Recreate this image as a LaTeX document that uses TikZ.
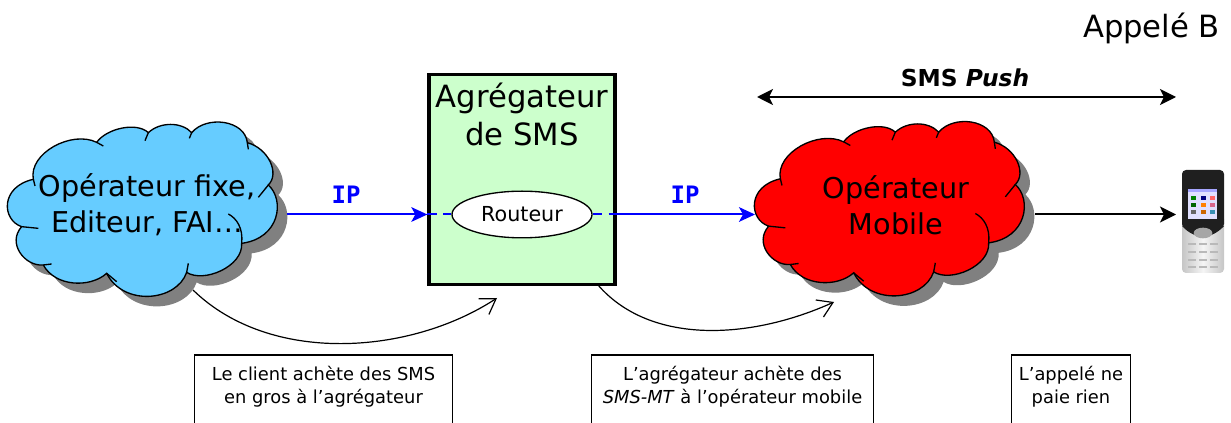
\documentclass[tikz,border=0pt]{standalone}
\usepackage{fontspec}
\setmainfont{DejaVu Sans}
\newfontfamily\ipfont{DejaVu Sans Mono}
\usetikzlibrary{arrows.meta,shapes.geometric}
\definecolor{ciel}{HTML}{66CCFF}
\definecolor{vert}{HTML}{CCFFCC}
\definecolor{ombre}{HTML}{808080}
\definecolor{bleu}{HTML}{0000FF}
\newcommand{\cloudoutline}{(100,208)
	.. controls (85,130) and (215,60) .. (290,97)
	.. controls (320,55) and (410,35) .. (445,68)
	.. controls (480,35) and (545,35) .. (575,68)
	.. controls (620,15) and (735,30) .. (742,98)
	.. controls (805,115) and (840,190) .. (805,225)
	.. controls (855,270) and (840,385) .. (725,400)
	.. controls (730,470) and (610,520) .. (560,487)
	.. controls (530,575) and (370,590) .. (320,490)
	.. controls (270,535) and (165,530) .. (130,465)
	.. controls (75,470) and (20,400) .. (65,350)
	.. controls (5,330) and (0,230) .. (100,208) -- cycle}
\newcommand{\cloudstubs}{(290,97) -- (310,108)
	(445,68) -- (435,92)
	(575,68) -- (568,85)
	(742,98) -- (745,118)
	(805,225) -- (775,262)
	(725,400) .. controls (730,355) and (710,325) .. (685,312)
	(560,487) -- (565,460)
	(320,490) -- (350,515)
	(130,465) -- (155,462)
	(65,350) -- (115,355)
	(100,208) -- (105,228)}
\tikzset{
	cloudtext/.style={anchor=center,align=center,font=\fontsize{21.5}{27}\selectfont},
	notetext/.style={anchor=center,align=center,inner xsep=0pt,inner ysep=0pt,minimum height=46.5pt,font=\fontsize{13.4}{17.3}\selectfont},
	noteframe/.style={line width=1.1pt},
	ipline/.style={bleu,line width=1.5pt},
	iptip/.style={-{Stealth[length=12pt,width=11pt,inset=3pt]}},
	iptext/.style={anchor=center,font=\ipfont\bfseries\fontsize{18}{20}\selectfont,text=bleu},
	blacktip/.style={line width=1.5pt,-{Stealth[length=12pt,width=12pt,inset=3pt]}},
	notecurve/.style={line width=.9pt,-{Straight Barb[length=11pt,width=14pt]}}
}
\begin{document}
\begin{tikzpicture}[x=.75pt,y=-.75pt]
	\useasboundingbox (0,0) rectangle (1231,423);
	% nuage de gauche
	\begin{scope}[shift={(10,120)},x=.25pt,y=-.25pt]
		\fill[ombre] \cloudoutline;
	\end{scope}
	\begin{scope}[shift={(0,110)},x=.25pt,y=-.25pt]
		\filldraw[fill=ciel,draw=black,line width=1pt] \cloudoutline;
		\draw[line width=1pt] \cloudstubs;
	\end{scope}
	% nuage de droite
	\begin{scope}[shift={(757,119.5)},x=.25pt,y=-.25pt]
		\fill[ombre] \cloudoutline;
	\end{scope}
	\begin{scope}[shift={(747,109.5)},x=.25pt,y=-.25pt]
		\filldraw[fill=red,draw=black,line width=1pt] \cloudoutline;
		\draw[line width=1pt] \cloudstubs;
	\end{scope}
	\node[cloudtext] (fixe) at (147,205) {Opérateur fixe,\\Editeur, FAI…};
	\node[cloudtext] (mobile) at (896,205) {Opérateur\\Mobile};
	% agregateur
	\node[draw=black,fill=vert,line width=2.5pt,minimum width=139.5pt,minimum height=157.5pt] (agreg) at (522,179.5) {};
	\node[anchor=center,align=center,font=\fontsize{23}{28.5}\selectfont] (agregtxt) at (522,114) {Agrégateur\\de SMS};
	\node[draw=black,fill=white,ellipse,line width=1pt,minimum width=105pt,minimum height=35pt,inner sep=0pt,font=\fontsize{15.5}{18}\selectfont] (routeur) at (522,214.5) {Routeur\hspace{7pt}};
	% coordonnees des liens
	\coordinate (fixeout) at (287,214.5);
	\coordinate (fixedown) at (193,290);
	\coordinate (agregin) at (497,298);
	\coordinate (agregdown) at (598,285);
	\coordinate (mobilein) at (755,214.5);
	\coordinate (mobileout) at (1035,214.5);
	\coordinate (mobiledown) at (834,302);
	\coordinate (phone) at (1176,214.5);
	\coordinate (pushleft) at (757,97);
	\coordinate (pushright) at (1176,97);
	% liens
	\draw[ipline,iptip] (fixeout) -- (routeur -| agreg.west);
	\draw[ipline,dash pattern=on 7pt off 5pt] (routeur -| agreg.west) -- (routeur.west);
	\draw[ipline,dash pattern=on 7pt off 5pt] (routeur.east) -- (routeur -| agreg.east);
	\draw[ipline,iptip] (routeur -| agreg.east) -- (mobilein);
	\draw[blacktip] (mobileout) -- (phone);
	\draw[line width=1.5pt,{Stealth[length=12pt,width=12pt,inset=3pt]}-{Stealth[length=12pt,width=12pt,inset=3pt]}] (pushleft) -- (pushright);
	\draw[notecurve] (fixedown) .. controls (270,365) and (410,355) .. (agregin);
	\draw[notecurve] (agregdown) .. controls (650,345) and (750,340) .. (mobiledown);
	% textes
	\node[anchor=center,font=\bfseries\fontsize{17.5}{20}\selectfont] (push) at (965,78) {SMS \textit{Push}};
	\node[iptext] (ipa) at (346,195) {IP};
	\node[iptext] (ipb) at (685,195) {IP};
	\node[anchor=center,font=\fontsize{23}{27}\selectfont] (appele) at (1151.5,28) {Appelé B};
	% notes
	\node[notetext,minimum width=192.75pt] (clientnote) at (323.5,386.5) {Le client achète des SMS\\en gros à l’agrégateur};
	\node[notetext,minimum width=210.75pt] (agregnote) at (732.5,386.5) {L’agrégateur achète des\\\textit{SMS-MT} à l’opérateur mobile};
	\node[notetext,minimum width=88.5pt] (appelenote) at (1071,386.5) {L’appelé ne\\paie rien};
	\draw[noteframe] (clientnote.west |- 0,423) -- (clientnote.north west) -- (clientnote.north east) -- (clientnote.east |- 0,423);
	\draw[noteframe] (agregnote.west |- 0,423) -- (agregnote.north west) -- (agregnote.north east) -- (agregnote.east |- 0,423);
	\draw[noteframe] (appelenote.west |- 0,423) -- (appelenote.north west) -- (appelenote.north east) -- (appelenote.east |- 0,423);
	% telephone
	\shade[left color=gray!45,right color=gray!45,middle color=gray!8,rounded corners=3pt] (1182,215) rectangle (1224,273);
	\fill[black!88,rounded corners=3pt] (1182,170) rectangle (1224,228);
	\fill[black!88] (1182,226) .. controls (1195,240) and (1211,240) .. (1224,226) -- cycle;
	\fill[blue!12!white] (1188,189) rectangle (1217,219);
	\fill[blue!35!white] (1188,189) rectangle (1217,192);
	\foreach \ligne/\teintea/\teinteb/\teintec in {198/green!50!black/blue!50!black/red!60!white,205/green!40!black/orange/purple!60!white,212/black!60/orange!80!black/cyan!70!black}
		\foreach \col/\teinte in {1193/\teintea,1203/\teinteb,1212/\teintec}
			\fill[\teinte] (\col-2.5,\ligne-2) rectangle (\col+2.5,\ligne+2);
	\fill[gray!70] (1203,233) ellipse (7pt and 4pt);
	\foreach \ligne in {244,252,260,267}
		\foreach \col in {1192,1203,1214}
			\fill[gray!55] (\col-4,\ligne-1) rectangle (\col+4,\ligne+1);
\end{tikzpicture}
\end{document}
